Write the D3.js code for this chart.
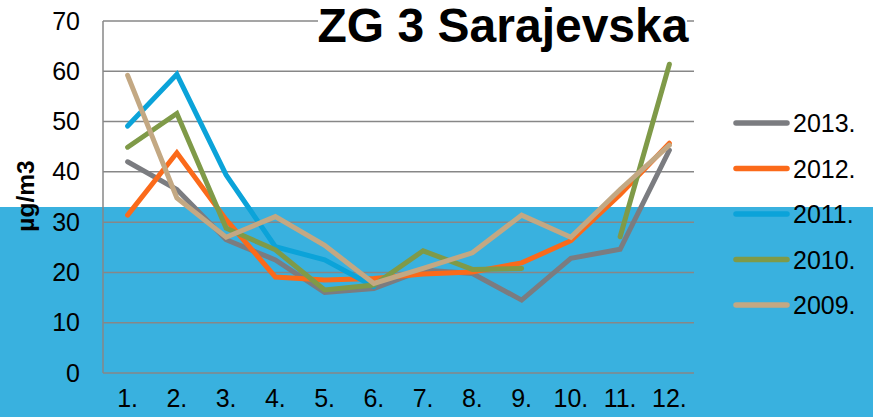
<!DOCTYPE html>
<html>
<head>
<meta charset="utf-8">
<script src="https://cdn.jsdelivr.net/npm/d3@7"></script>
<style>
  body { margin: 0; background: #fff; }
  svg { display: block; font-family: "Liberation Sans", Arial, sans-serif; }
</style>
</head>
<body>
<div class="graph-container"></div>
<script>
// months on the x axis
var months = ['1.', '2.', '3.', '4.', '5.', '6.', '7.', '8.', '9.', '10.', '11.', '12.'];
var yTicks = [0, 10, 20, 30, 40, 50, 60, 70];

// monthly values per year, null where there is no measurement
var y2013 = [42, 36.5, 26.5, 22.5, 16, 16.8, 20.5, 19.8, 14.5, 22.8, 24.6, 44.3];
var y2012 = [31.4, 43.8, 30.5, 19.1, 18.5, 18.8, 19.7, 20.1, 21.9, 26.3, 35.5, 45.7];
var y2011 = [49.1, 59.4, 39.4, 25.1, 22.5, 17.2, null, null, null, null, null, null];
var y2010 = [44.9, 51.6, 28.8, 24.5, 16.5, 17.5, 24.3, 20.6, 20.8, null, 27.1, 61.4];
var y2009 = [59.2, 34.8, 27, 31.1, 25.4, 17.8, 20.8, 23.9, 31.4, 27, 36.5, 45.3];

var seriesNames = ['2013.', '2012.', '2011.', '2010.', '2009.'];
var seriesColors = ['#7b7c80', '#fb6a1a', '#0ba3d9', '#7f9a48', '#c3a883'];
var limitValue = 40.5;

var svgWidth = 873;
var svgHeight = 417;

var svg = d3.select('.graph-container').append('svg')
  .attr('width', svgWidth)
  .attr('height', svgHeight);

// shadow filter for the limit line
var defs = svg.append('defs');
var f = defs.append('filter').attr('id', 'shadow')
  .attr('x', '-5%').attr('y', '-100%').attr('width', '110%').attr('height', '400%');
f.append('feDropShadow').attr('dx', 0).attr('dy', 4).attr('stdDeviation', 2.5)
  .attr('flood-color', '#000').attr('flood-opacity', 0.45);

// blue band behind the lower half
svg.append('rect')
  .attr('x', 0).attr('y', 207)
  .attr('width', svgWidth).attr('height', svgHeight - 207)
  .attr('fill', '#39b1df');

var xScale = d3.scaleBand()
  .domain(months)
  .range([103, 694]);

var yScale = d3.scaleLinear()
  .domain([0, 70])
  .range([373, 21]);

// gridlines
svg.append('g').selectAll('line')
  .data(yTicks)
  .enter()
  .append('line')
  .attr('x1', 103).attr('x2', 694)
  .attr('y1', function(d) { return yScale(d); })
  .attr('y2', function(d) { return yScale(d); })
  .attr('stroke', '#878787')
  .attr('stroke-width', 1.5);

// left axis line
svg.append('line')
  .attr('x1', 103).attr('x2', 103)
  .attr('y1', yScale(70)).attr('y2', yScale(0))
  .attr('stroke', '#878787')
  .attr('stroke-width', 1.5);

// y tick labels
var yAxis = svg.append('g')
  .attr('transform', 'translate(80,0)')
  .call(d3.axisLeft(yScale).tickValues(yTicks).tickSize(0).tickPadding(0));
yAxis.select('.domain').remove();
yAxis.selectAll('text')
  .attr('font-size', 25)
  .attr('font-family', '"Liberation Sans", Arial, sans-serif')
  .attr('fill', '#000');

// x tick labels
var xAxis = svg.append('g')
  .attr('transform', 'translate(0,389)')
  .call(d3.axisBottom(xScale).tickSize(0).tickPadding(0));
xAxis.select('.domain').remove();
xAxis.selectAll('text')
  .attr('font-size', 25)
  .attr('font-family', '"Liberation Sans", Arial, sans-serif')
  .attr('fill', '#000');

// y axis title
svg.append('text')
  .attr('transform', 'translate(34,196) rotate(-90)')
  .attr('text-anchor', 'middle')
  .attr('font-size', 24.5)
  .attr('font-weight', 'bold')
  .text('µg/m3');

// series lines
var line = d3.line()
  .defined(function(d) { return d != null; })
  .x(function(d, i) { return xScale(months[i]) + xScale.bandwidth() / 2; })
  .y(function(d) { return yScale(d); });

var allSeries = [y2013, y2012, y2011, y2010, y2009];
svg.append('g').selectAll('path')
  .data(allSeries)
  .enter()
  .append('path')
  .attr('d', line)
  .attr('fill', 'none')
  .attr('stroke', function(d, i) { return seriesColors[i]; })
  .attr('stroke-width', 5)
  .attr('stroke-linecap', 'round')
  .attr('stroke-linejoin', 'miter');

// limit line
svg.append('line')
  .attr('x1', 100).attr('x2', 719)
  .attr('y1', yScale(limitValue)).attr('y2', yScale(limitValue))
  .attr('stroke', '#c00000')
  .attr('stroke-width', 7.5)
  .attr('filter', 'url(#shadow)');

// title with white box behind it
svg.append('rect')
  .attr('x', 318).attr('y', 8)
  .attr('width', 369).attr('height', 38)
  .attr('fill', '#fff');
svg.append('text')
  .attr('x', 503).attr('y', 42)
  .attr('text-anchor', 'middle')
  .attr('font-size', 48)
  .attr('font-weight', 'bold')
  .text('ZG 3 Sarajevska');

// legend
var legend = svg.append('g').selectAll('g')
  .data(seriesNames)
  .enter()
  .append('g')
  .attr('transform', function(d, i) { return 'translate(734,' + (123 + i * 45.5) + ')'; });

legend.append('line')
  .attr('x1', 2).attr('x2', 53)
  .attr('stroke', function(d, i) { return seriesColors[i]; })
  .attr('stroke-width', 5.5)
  .attr('stroke-linecap', 'round');

legend.append('text')
  .attr('x', 59).attr('y', 9)
  .attr('font-size', 25)
  .text(function(d) { return d; });
</script>
</body>
</html>
